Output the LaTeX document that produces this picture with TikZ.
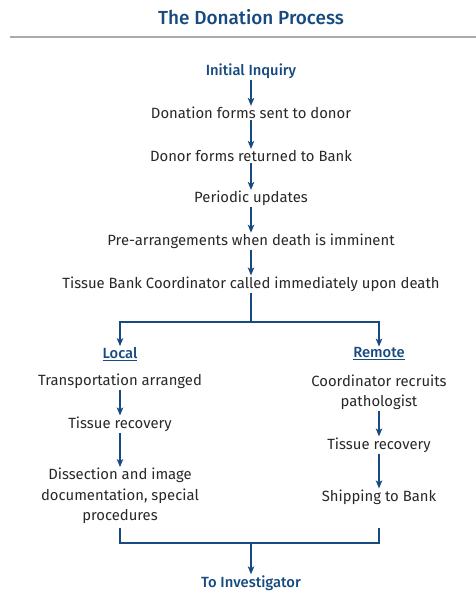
\documentclass[tikz,border=0pt]{standalone}
\usepackage{fontspec}
\setmainfont{Fira Sans}
\newfontfamily\headfont{Fira Sans Medium}
\usetikzlibrary{positioning, arrows.meta}

\definecolor{bankblue}{RGB}{22,74,128}
\definecolor{bodygray}{RGB}{40,40,40}
\definecolor{rulegray}{RGB}{170,170,170}

\tikzset{
  stage/.style={text=bodygray, font=\fontsize{14.9}{20.5}\selectfont, align=center,
    inner sep=1bp},
  heading/.style={stage, text=bankblue, font=\headfont\fontsize{14.8}{20.5}\selectfont},
  flow/.style={draw=bankblue, line width=1.3bp, -{Stealth[length=8bp, width=6.5bp, inset=2bp]}},
  joint/.style={draw=bankblue, line width=1.3bp}
}

\begin{document}
\begin{tikzpicture}[x=1bp, y=-1bp]

\useasboundingbox (0,0) rectangle (476,598);

\node [heading, font=\headfont\fontsize{19}{22}\selectfont] (title) at (251,17) {The Donation Process};
\draw [rulegray, line width=1.2bp] (10,37) -- (476,37);

\node [heading] (inquiry) at (251,71) {Initial Inquiry};

\foreach \t [count=\y] in {Donation forms sent to donor, Donor forms returned to Bank,
    Periodic updates, Pre-arrangements when death is imminent,
    Tissue Bank Coordinator called immediately upon death}
  \node [stage] (stage-\y) at (251,70.25+\y*42.75) {\t};

\draw [flow] (inquiry) -- (stage-1);
\foreach \i/\j in {1/2,2/3,3/4,4/5}
  \draw [flow] (stage-\i) -- (stage-\j);

% local branch
\node [heading] (local) at (120,354) {\underline{Local}};
\node [stage] (l-transport) at (120,381) {Transportation arranged};
\node [stage] (l-recovery) at (120,424) {Tissue recovery};
\node [stage] (l-dissect) at (120,496) {Dissection and image\\documentation, special\\procedures};

% remote branch
\node [heading] (remote) at (379,354) {\underline{Remote}};
\node [stage] (r-recruit) at (379,392) {Coordinator recruits\\pathologist};
\node [stage] (r-recovery) at (379,445) {Tissue recovery};
\node [stage] (r-shipping) at (379,497) {Shipping to Bank};

\draw [flow] (l-transport) -- (l-recovery);
\draw [flow] (l-recovery) -- (l-dissect);
\draw [flow] (r-recruit) -- (r-recovery);
\draw [flow] (r-recovery) -- (r-shipping);

\coordinate (split) at (251,322);
\draw [joint] (stage-5) -- (split);
\draw [flow] (split) -| (local);
\draw [flow] (split) -| (remote);

\node [heading] (investigator) at (251,583) {To Investigator};

\coordinate (l-end) at (120,528);
\coordinate (r-end) at (379,528);
\coordinate (merge) at (251,543);
\draw [joint] (l-end) |- (merge) -| (r-end);
\draw [flow] (merge) -- (investigator);

\end{tikzpicture}
\end{document}
